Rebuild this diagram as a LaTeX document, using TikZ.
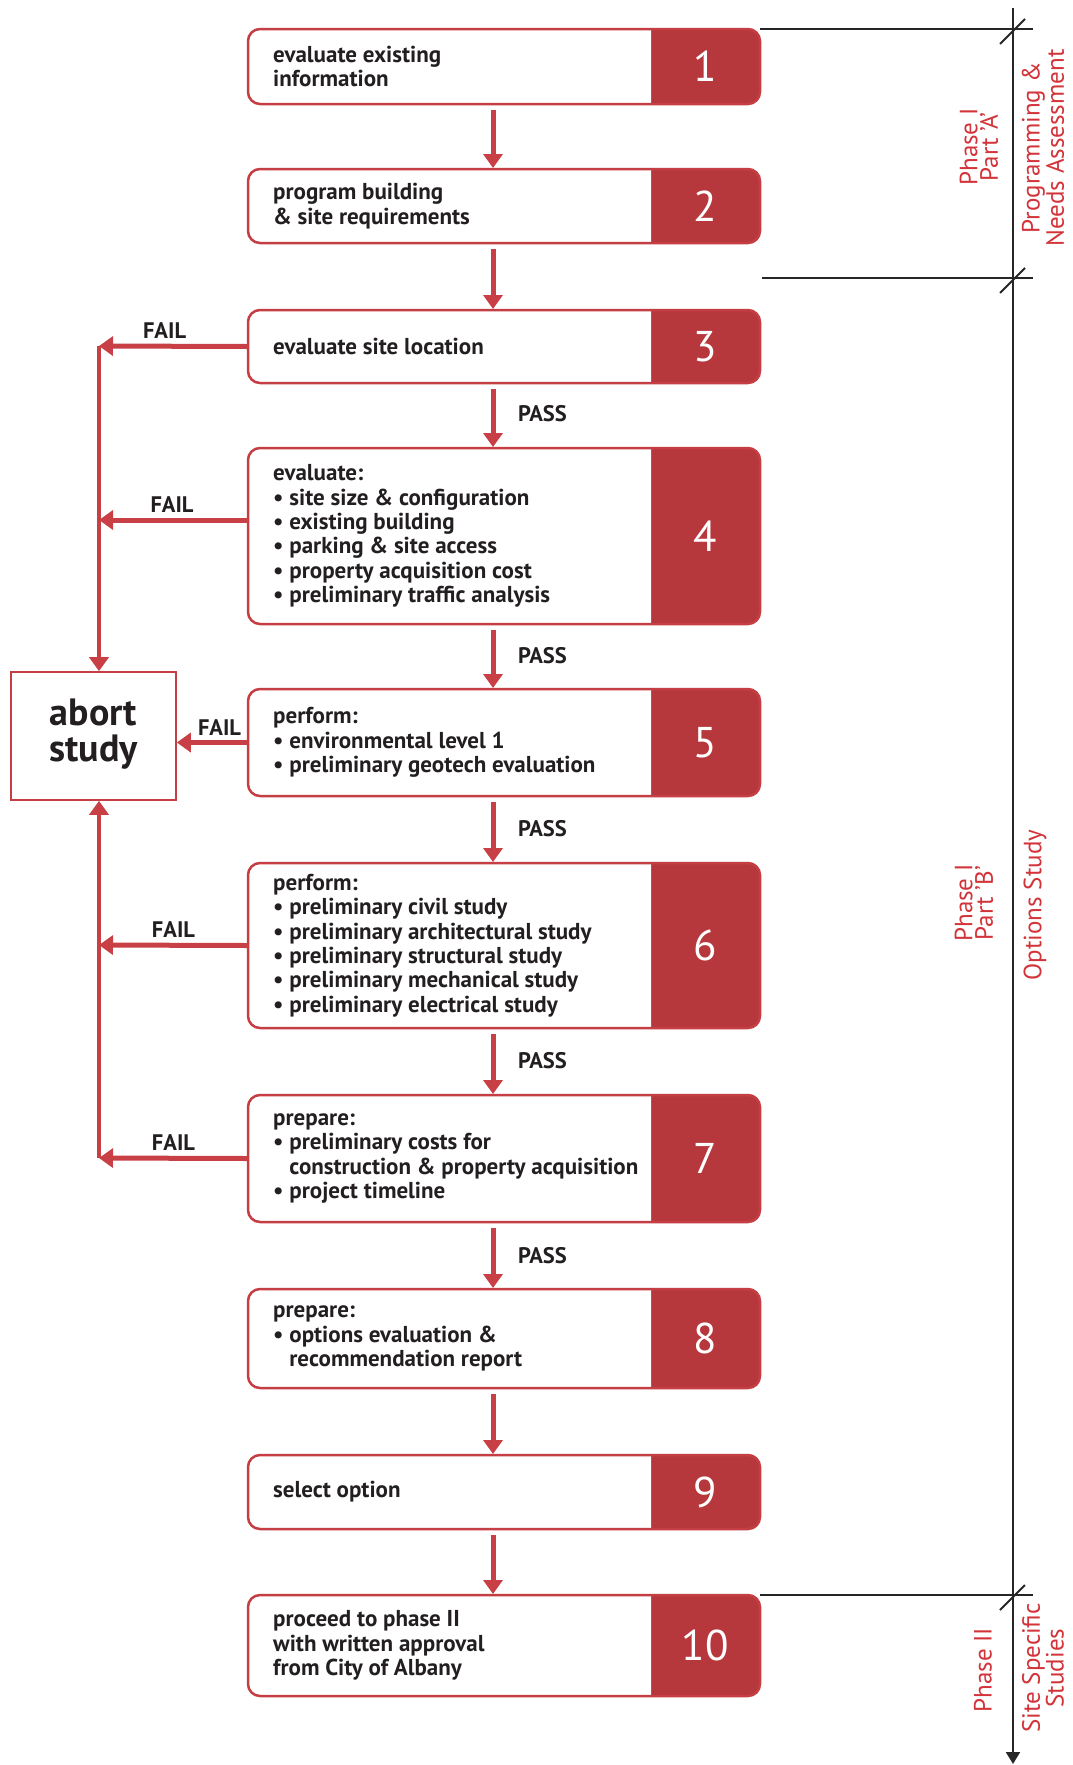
\documentclass[tikz,border=0pt]{standalone}
\usepackage{fontspec}
\setmainfont{PT Sans}
\usetikzlibrary{arrows.meta,fit}
\definecolor{boxred}{RGB}{196,62,68}
\definecolor{fillred}{RGB}{183,56,60}
\definecolor{arrowred}{RGB}{200,64,70}
\definecolor{lblred}{RGB}{210,52,58}
\definecolor{ink}{RGB}{35,31,32}
\newcommand\StepBox[5]{%
  \fill[fillred, rounded corners=12pt] (248,#2) rectangle (760,#3);
  \begin{scope}
    \clip (240,{#2-8}) rectangle (651,{#3+8});
    \fill[white, rounded corners=12pt] (248,#2) rectangle (760,#3);
  \end{scope}
  \node[frame, fit={(248,#2) (760,#3)}] (#1) {};
  \node[boxtext, anchor=west] (#1t) at (273,{(#2+#3)/2}) {#4};
  \node[numtext] (#1n) at (705,{(#2+#3)/2}) {#5};
}
\newcommand\bul{\textbullet\ }
\newcommand\nobul{\phantom{\textbullet\ }}
\begin{document}
\begin{tikzpicture}[x=1pt,y=-1pt,
  frame/.style={draw=boxred, line width=2.5pt, rounded corners=12pt, rectangle, inner sep=0pt, outer sep=0pt},
  boxtext/.style={text=ink, font=\bfseries\fontsize{23}{24.3}\selectfont, align=left, inner sep=0pt},
  numtext/.style={text=white, font=\fontsize{43}{43}\selectfont},
  lbl/.style={text=ink, font=\bfseries\fontsize{22.5}{24}\selectfont, inner sep=0pt},
  flow/.style={draw=arrowred, line width=5pt, -{Triangle[width=19pt,length=14pt]}},
  scaleline/.style={draw=black!85, line width=2pt},
  phase/.style={text=lblred, font=\fontsize{25}{20.5}\selectfont, rotate=90, align=center, inner sep=0pt}]
\useasboundingbox[fill=white] (0,0) rectangle (1072,1765);

\StepBox{b1}{29}{104}{evaluate existing\\information}{1}
\StepBox{b2}{169}{243}{program building\\\& site requirements}{2}
\StepBox{b3}{310}{383}{evaluate site location}{3}
\StepBox{b4}{448}{624}{evaluate:\\\bul site size \& configuration\\\bul existing building\\\bul parking \& site access\\\bul property acquisition cost\\\bul preliminary traffic analysis}{4}
\StepBox{b5}{689}{796}{perform:\\\bul environmental level 1\\\bul preliminary geotech evaluation}{5}
\StepBox{b6}{863}{1028}{perform:\\\bul preliminary civil study\\\bul preliminary architectural study\\\bul preliminary structural study\\\bul preliminary mechanical study\\\bul preliminary electrical study}{6}
\StepBox{b7}{1095}{1222}{prepare:\\\bul preliminary costs for\\\nobul construction \& property acquisition\\\bul project timeline}{7}
\StepBox{b8}{1289}{1388}{prepare:\\\bul options evaluation \&\\\nobul recommendation report}{8}
\StepBox{b9}{1455}{1529}{select option}{9}
\StepBox{b10}{1595}{1696}{proceed to phase II\\with written approval\\from City of Albany}{10}

% abort box
\node[draw=boxred, line width=1.6pt, fit={(11,672) (176,800)}, inner sep=0pt] (ab) {};
\node[text=ink, font=\bfseries\fontsize{38}{36}\selectfont, align=center] (abt) at ([yshift=2pt]ab.center) {abort\\study};

% down arrows
\foreach \a/\b in {b1/b2,b2/b3,b3/b4,b4/b5,b5/b6,b6/b7,b7/b8,b8/b9,b9/b10}
  \draw[flow] ([xshift=-11pt,yshift=-6pt]\a.south) -- ([xshift=-11pt,yshift=1pt]\b.north);

% PASS labels
\node[lbl, anchor=west] (p3) at (518,414) {PASS};
\node[lbl, anchor=west] (p4) at (518,656) {PASS};
\node[lbl, anchor=west] (p5) at (518,829) {PASS};
\node[lbl, anchor=west] (p6) at (518,1061) {PASS};
\node[lbl, anchor=west] (p7) at (518,1256) {PASS};

% FAIL connectors
\coordinate (k3) at (99,346);
\coordinate (k4) at (99,520);
\coordinate (k6) at (99,945);
\coordinate (k7) at (99,1158);
\draw[flow] (b3.west) -- node[lbl, above=5pt, pos=0.56] (f3) {FAIL} (k3);
\draw[flow] (b4.west |- k4) -- node[lbl, above=5pt, pos=0.51] (f4) {FAIL} (k4);
\draw[flow] (b5.west) -- node[lbl, above=5pt, pos=0.40] (f5) {FAIL} (ab.east |- b5.west);
\draw[flow] (b6.west) -- node[lbl, above=5pt, pos=0.50] (f6) {FAIL} (k6);
\draw[flow] (b7.west) -- node[lbl, above=5pt, pos=0.50] (f7) {FAIL} (k7);
\draw[flow, line width=4.5pt] (k3) -- (k3 |- ab.north);
\draw[flow, line width=4.5pt] (k7) -- (k7 |- ab.south);

% right-hand scale
\coordinate (vtop) at (1013,8);
\coordinate (vbot) at (1013,1764);
\coordinate (t1) at (1013,29);
\coordinate (t2) at (1013,278);
\coordinate (t3) at (1013,1595);
\coordinate (e2) at (762,278);
\draw[scaleline, -{Triangle[width=14pt,length=12pt]}] (vtop) -- (vbot);
\draw[scaleline] (b1.north east) -- ([xshift=20pt]t1);
\draw[scaleline] (e2) -- ([xshift=20pt]t2);
\draw[scaleline] (b10.north east) -- ([xshift=20pt]t3);
\foreach \t in {t1,t2,t3}
  \draw[scaleline] ([xshift=-13pt,yshift=-15pt]\t) -- ([xshift=12pt,yshift=10pt]\t);

\node[phase] (pa) at (979,147) {Phase I\\Part 'A'};
\node[phase] (pas) at (1043,148) {Programming \&\\Needs Assessment};
\node[phase] (pb) at (974,903) {Phase I\\Part 'B'};
\node[phase] (pbs) at (1035,905) {Options Study};
\node[phase] (pc) at (983,1670) {Phase II};
\node[phase] (pcs) at (1043,1668) {Site Specific\\Studies};
\end{tikzpicture}
\end{document}
